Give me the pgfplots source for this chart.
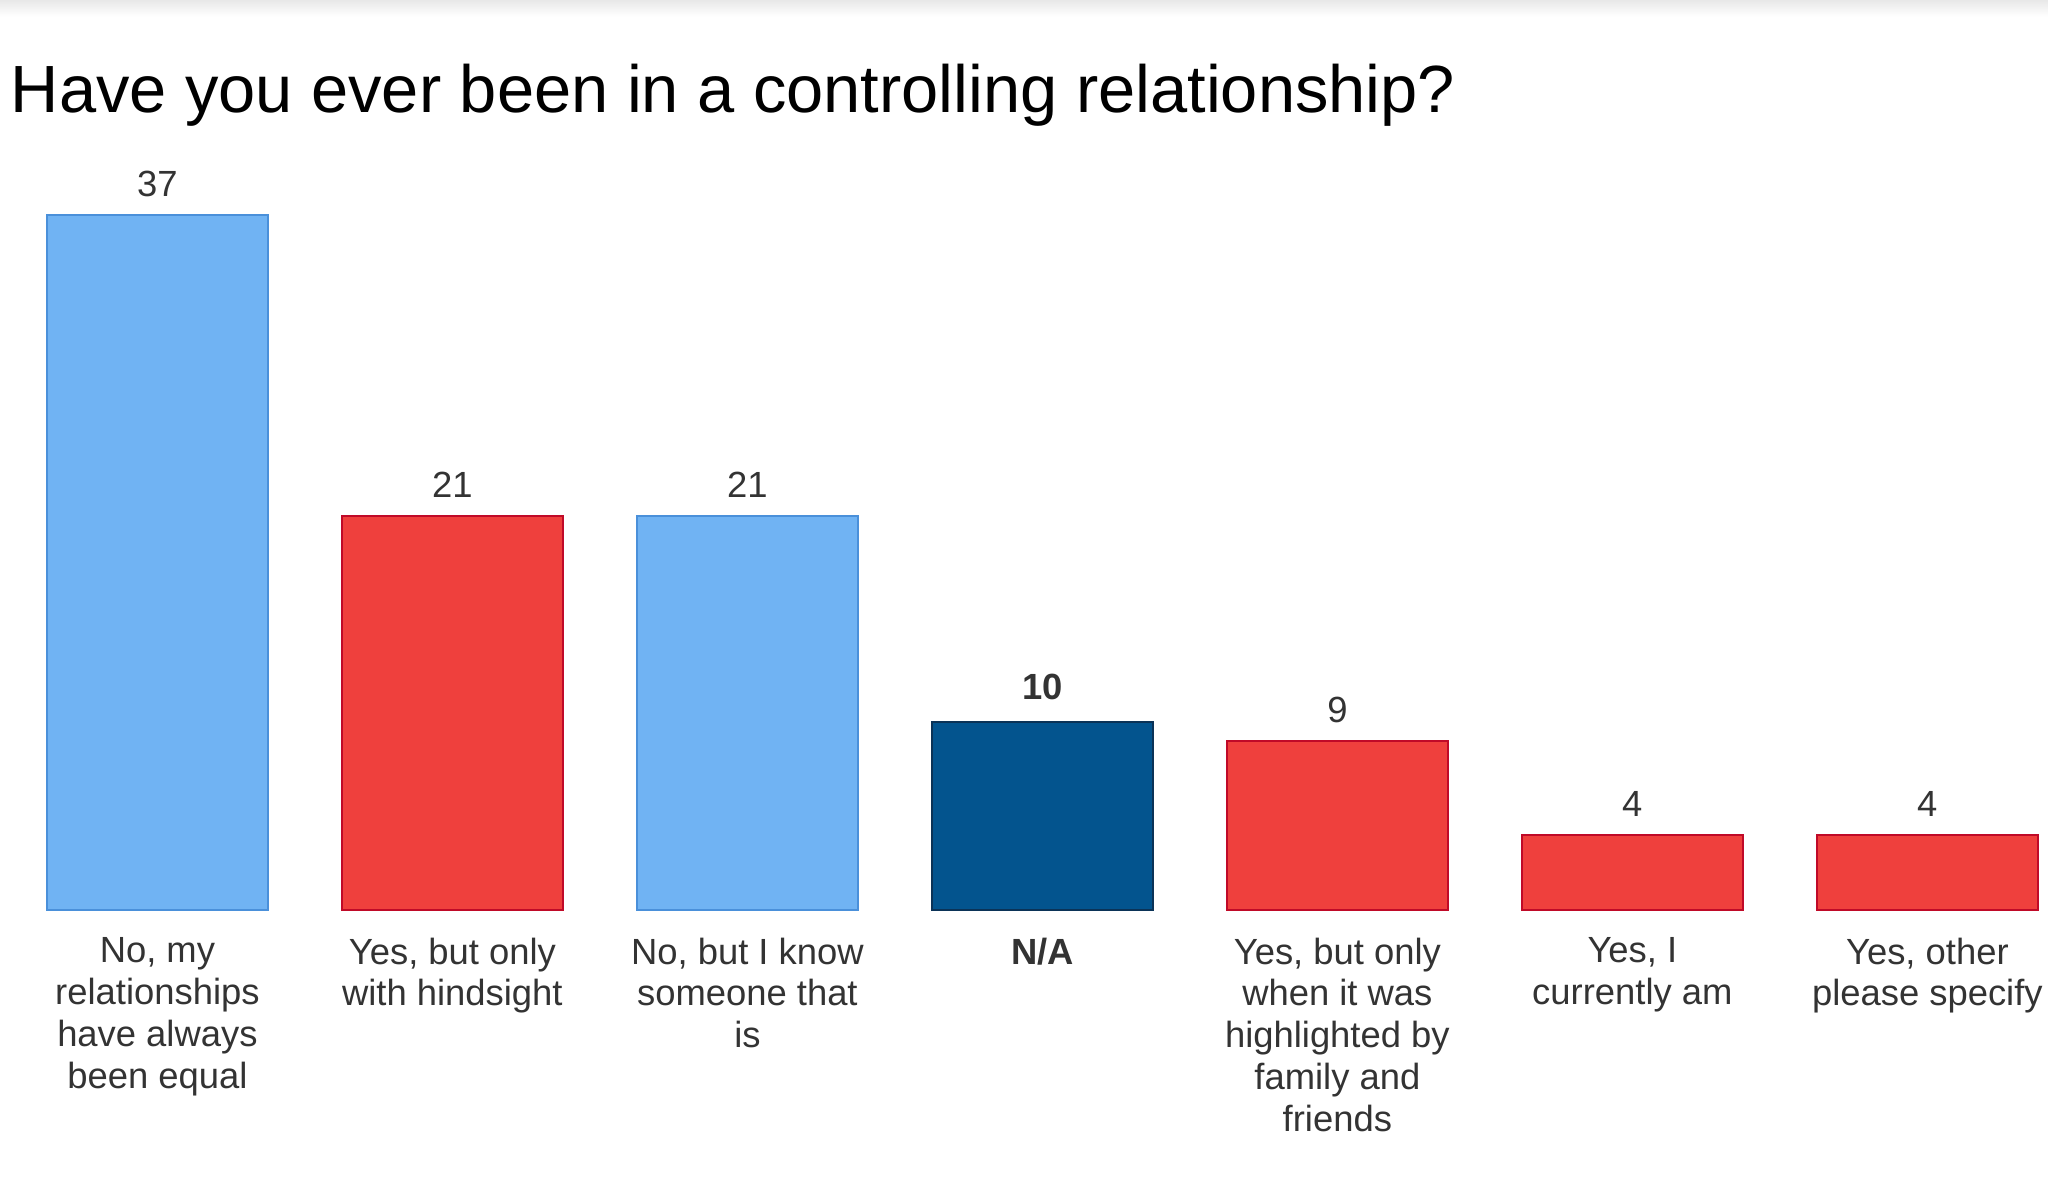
\documentclass[border=0pt]{standalone}
\usepackage{pgfplots}
\pgfplotsset{compat=1.18}
\usepackage{fontspec}
\setmainfont{Liberation Sans}
\definecolor{lblue}{HTML}{70B3F3}
\definecolor{lblueb}{HTML}{4A90DA}
\definecolor{cred}{HTML}{EF403D}
\definecolor{credb}{HTML}{C00A28}
\definecolor{dblue}{HTML}{03548E}
\definecolor{dblueb}{HTML}{0B3357}
\definecolor{txt}{HTML}{333333}
\begin{document}
\begin{tikzpicture}
\begin{axis}[
  /pgf/number format/assume math mode=true,
  x=73.75pt, y=4.693pt,
  xmin=-0.5, xmax=6.4, ymin=0, ymax=40,
  axis line style={draw=none},
  major tick length=0pt,
  ytick=\empty,
  xtick={0,1,2,3,4,5,6},
  xticklabels={{No, my\\relationships\\have always\\been equal},
               {Yes, but only\\with hindsight},
               {No, but I know\\someone that\\is},
               {\bfseries N/A},
               {Yes, but only\\when it was\\highlighted by\\family and\\friends},
               {Yes, I\\currently am},
               {Yes, other\\please specify}},
  xticklabel style={align=center, font=\fontsize{9.1}{10.45}\selectfont, text=txt, yshift=-3.4pt},
  clip=false,
  nodes near coords,
  nodes near coords style={font=\fontsize{9.1}{10.45}\selectfont, text=txt, yshift=1.0pt},
]
\addplot[ybar, bar width=0.75, bar shift=0pt, fill=lblue, draw=lblueb, line width=0.5pt]
  coordinates {(0,37) (2,21)};
\addplot[ybar, bar width=0.75, bar shift=0pt, fill=cred, draw=credb, line width=0.5pt]
  coordinates {(1,21) (4,9) (5,4) (6,4)};
\addplot[ybar, bar width=0.75, bar shift=0pt, fill=dblue, draw=dblueb, line width=0.5pt,
  nodes near coords style={font=\fontsize{9.1}{10.45}\selectfont\bfseries, text=txt, yshift=1.0pt}]
  coordinates {(3,10)};
\node[anchor=base west, inner sep=0pt, font=\fontsize{16.7}{20}\selectfont, text=black]
  at (axis cs:-0.4997,42.5) {Have you ever been in a controlling relationship?};
\coordinate (BL) at (axis cs:-0.5336,-15.45);
\coordinate (TR) at (axis cs:6.409,48.48);
\coordinate (TL) at (axis cs:-0.5336,48.48);
\coordinate (GB) at (axis cs:6.409,47.6);
\end{axis}
\shade[top color=black!9, bottom color=white] (TL) rectangle (GB);
\pgfresetboundingbox
\path[use as bounding box] (BL) rectangle (TR);
\end{tikzpicture}
\end{document}
